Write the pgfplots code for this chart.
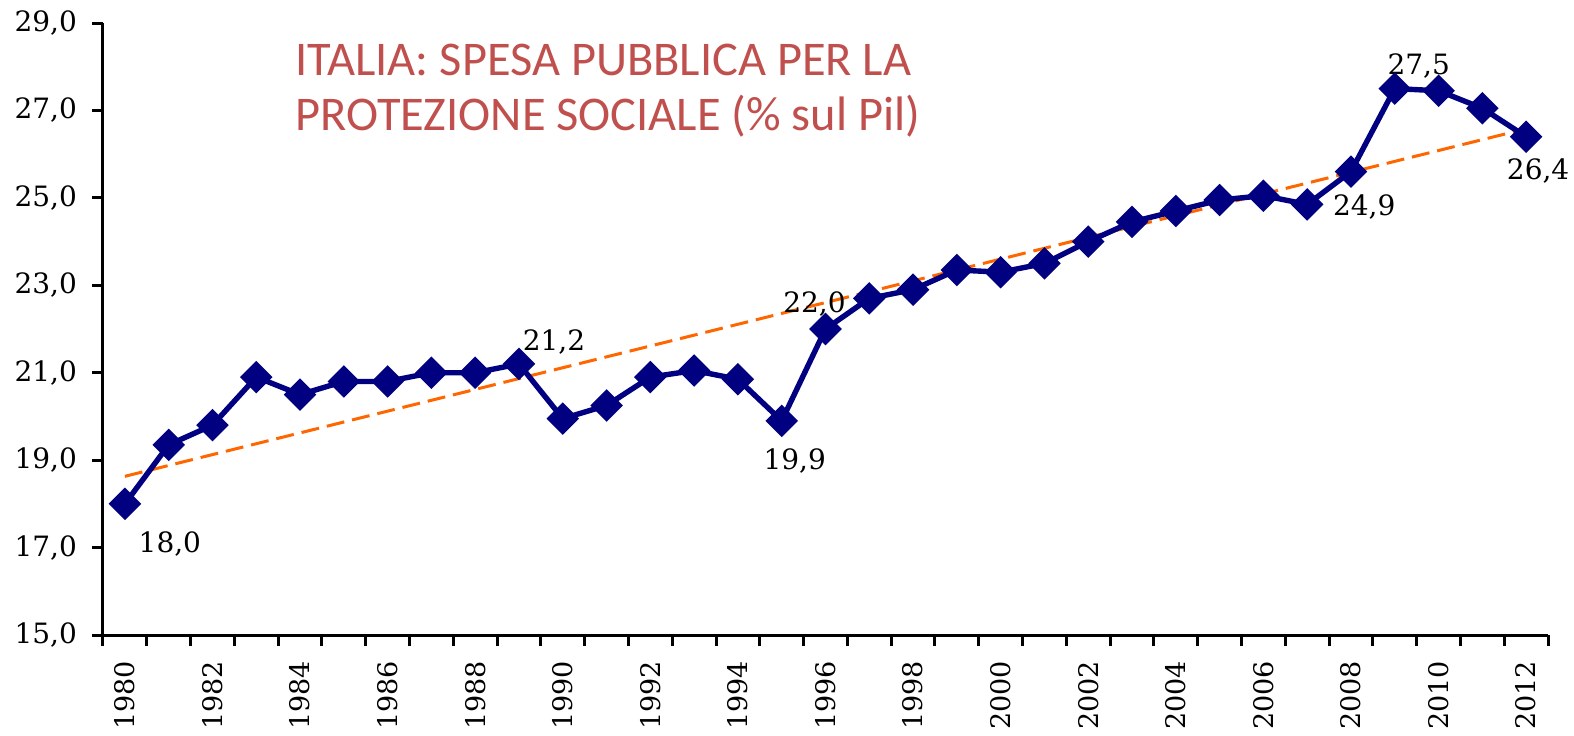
\documentclass[border=0pt]{standalone}
\usepackage{fontspec}
\setmainfont{DejaVu Serif}
\newfontfamily\titlefont{Carlito}
\usepackage{pgfplots}
\pgfplotsset{compat=1.18}
\definecolor{navyline}{HTML}{000080}
\definecolor{trendorange}{HTML}{FF6600}
\definecolor{titlered}{HTML}{C0504D}
\newcommand{\lblfont}{\fontsize{14}{16}\selectfont}
\begin{document}
\begin{tikzpicture}
\begin{axis}[
  scale only axis, width=722.5pt, height=306pt,
  xmin=1979.5, xmax=2012.5, ymin=15, ymax=29,
  axis lines*=left,
  axis line style={line width=1.5pt, black},
  tick style={line width=1.5pt, black},
  tick align=outside,
  major tick length=5.5pt,
  ytick={15,17,19,21,23,25,27,29},
  xtick={1979.5,1980.5,1981.5,1982.5,1983.5,1984.5,1985.5,1986.5,1987.5,1988.5,1989.5,1990.5,1991.5,1992.5,1993.5,1994.5,1995.5,1996.5,1997.5,1998.5,1999.5,2000.5,2001.5,2002.5,2003.5,2004.5,2005.5,2006.5,2007.5,2008.5,2009.5,2010.5,2011.5,2012.5},
  xticklabels={},
  extra x ticks={1980,1982,1984,1986,1988,1990,1992,1994,1996,1998,2000,2002,2004,2006,2008,2010,2012},
  extra x tick labels={1980,1982,1984,1986,1988,1990,1992,1994,1996,1998,2000,2002,2004,2006,2008,2010,2012},
  extra x tick style={major tick length=0pt, xticklabel style={rotate=90, anchor=east, xshift=-9.5pt, font=\fontsize{13.5}{16}\selectfont}},
  yticklabel style={/pgf/number format/fixed, /pgf/number format/fixed zerofill, /pgf/number format/precision=1, /pgf/number format/use comma, /pgf/number format/assume math mode=true, xshift=-4pt},
  tick label style={font=\lblfont, black},
  clip=false,
]
\addplot[trendorange, line width=1.5pt, dash pattern=on 9pt off 4pt] coordinates {(1980,18.63) (2012,26.58)};
\addplot[navyline, line width=2.7pt, mark=square*, mark size=4.4pt, mark options={rotate=45, solid, fill=navyline}] coordinates {
(1980,18.0) (1981,19.35) (1982,19.8) (1983,20.9) (1984,20.5) (1985,20.8) (1986,20.8) (1987,21.0) (1988,21.0) (1989,21.2)
(1990,19.95) (1991,20.25) (1992,20.9) (1993,21.05) (1994,20.85) (1995,19.9) (1996,22.0) (1997,22.7) (1998,22.9) (1999,23.35)
(2000,23.3) (2001,23.5) (2002,24.0) (2003,24.45) (2004,24.7) (2005,24.95) (2006,25.05) (2007,24.85) (2008,25.6) (2009,27.5)
(2010,27.45) (2011,27.05) (2012,26.4)};
\node[font=\lblfont, xshift=22.5pt, yshift=-20pt] at (axis cs:1980,18.0) {18,0};
\node[font=\lblfont, xshift=17.5pt, yshift=11pt] at (axis cs:1989,21.2) {21,2};
\node[font=\lblfont, xshift=6.5pt, yshift=-20pt] at (axis cs:1995,19.9) {19,9};
\node[font=\lblfont, xshift=-5.5pt, yshift=12.5pt] at (axis cs:1996,22.0) {22,0};
\node[font=\lblfont, xshift=28.5pt, yshift=-1.5pt] at (axis cs:2007,24.85) {24,9};
\node[font=\lblfont, xshift=12pt, yshift=11.5pt] at (axis cs:2009,27.5) {27,5};
\node[font=\lblfont, xshift=6pt, yshift=-17pt] at (axis cs:2012,26.4) {26,4};
\node[anchor=base west, inner sep=0pt, font=\titlefont\fontsize{24.2}{28}\selectfont, text=titlered] at ([xshift=96pt, yshift=-26pt]rel axis cs:0,1) {ITALIA: SPESA PUBBLICA PER LA};
\node[anchor=base west, inner sep=0pt, font=\titlefont\fontsize{24.2}{28}\selectfont, text=titlered] at ([xshift=96pt, yshift=-53.5pt]rel axis cs:0,1) {PROTEZIONE SOCIALE (\% sul Pil)};
\coordinate (SW) at (rel axis cs:0,0);
\coordinate (NE) at (rel axis cs:1,1);
\end{axis}
\pgfresetboundingbox
\useasboundingbox ([xshift=-51.5pt,yshift=-50pt]SW) rectangle ([xshift=13pt,yshift=11.5pt]NE);
\end{tikzpicture}
\end{document}
